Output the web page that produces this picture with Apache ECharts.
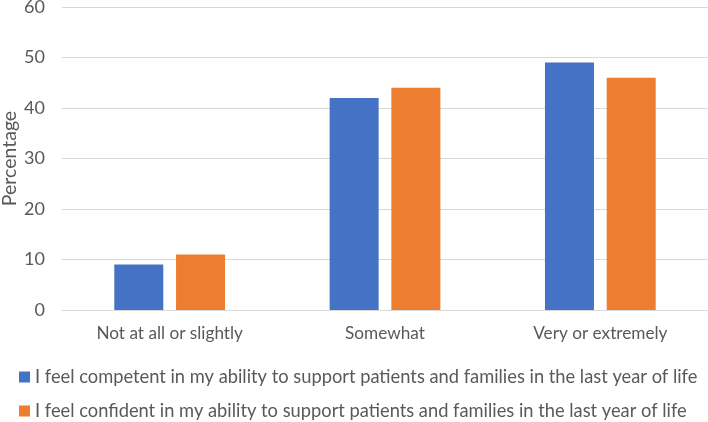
<!DOCTYPE html>
<html>
<head>
<meta charset="utf-8">
<script src="https://cdn.jsdelivr.net/npm/echarts@6/dist/echarts.min.js"></script>
<style>html,body{margin:0;padding:0;background:#fff}#c{width:708px;height:422px}</style>
</head>
<body>
<div id="c"></div>
<script>
const categories = ["Not at all or slightly", "Somewhat", "Very or extremely"];
const competent = [9, 42, 49];
const confident = [11, 44, 46];
const seriesNames = [
  "I feel competent in my ability to support patients and families in the last year of life",
  "I feel confident in my ability to support patients and families in the last year of life"
];
const yTicks = { min: 0, max: 60, interval: 10 };

const FONT = "Lato";
const TXT = '#595959';
function legendRow(name, top) {
  return {
    left: 19, top: top,
    itemWidth: 11, itemHeight: 11, itemGap: 0,
    icon: 'rect',
    padding: 0,
    textStyle: { fontFamily: FONT, fontSize: 18.3, color: TXT, padding: [0, 0, 0, 0] },
    data: [name]
  };
}
const chart = echarts.init(document.getElementById('c'), null, { renderer: 'canvas' });
chart.setOption({
  animation: false,
  textStyle: { fontFamily: FONT, color: TXT },
  grid: { left: 62, right: 0, top: 7, bottom: 112, containLabel: false, outerBoundsMode: 'none' },
  legend: [legendRow(seriesNames[0], 368), legendRow(seriesNames[1], 402)],
  xAxis: {
    type: 'category',
    data: categories,
    axisLine: { lineStyle: { color: '#D9D9D9', width: 1 } },
    axisTick: { show: false },
    axisLabel: { fontFamily: FONT, fontSize: 17.2, color: TXT, margin: 15 }
  },
  yAxis: {
    type: 'value',
    min: yTicks.min, max: yTicks.max, interval: yTicks.interval,
    name: 'Percentage',
    nameLocation: 'middle',
    nameGap: 42,
    nameMoveOverlap: false,
    nameTextStyle: { fontFamily: FONT, fontSize: 19.5, color: TXT },
    axisLine: { show: false },
    axisTick: { show: false },
    axisLabel: { fontFamily: FONT, fontSize: 18, color: TXT, margin: 17 },
    splitLine: { lineStyle: { color: '#D9D9D9', width: 1 } }
  },
  series: [
    { name: seriesNames[0], type: 'bar', data: competent, barWidth: 49, barGap: '26%',
      itemStyle: { color: '#4472C4' } },
    { name: seriesNames[1], type: 'bar', data: confident, barWidth: 49, barGap: '26%',
      itemStyle: { color: '#ED7D31' } }
  ]
});
</script>
</body>
</html>
